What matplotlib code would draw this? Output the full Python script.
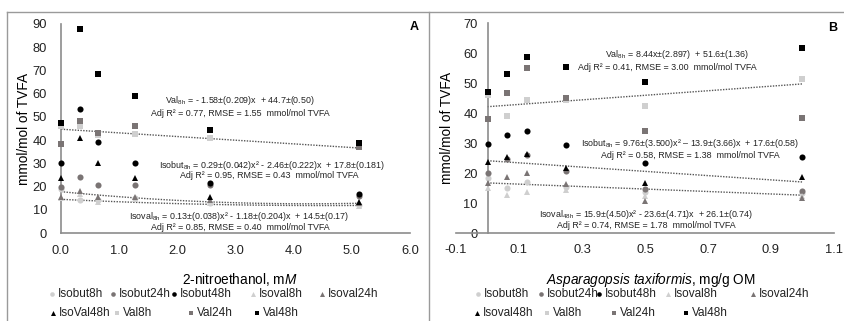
import matplotlib
matplotlib.use("Agg")
import matplotlib.pyplot as plt
from matplotlib.lines import Line2D
import numpy as np

plt.rcParams['font.family'] = ['Liberation Sans', 'DejaVu Sans']
plt.rcParams['mathtext.fontset'] = 'custom'
plt.rcParams['mathtext.rm'] = 'Liberation Sans'
plt.rcParams['mathtext.it'] = 'Liberation Sans:italic'

# ---------------- data ----------------
series_names = ["Isobut8h", "Isobut24h", "Isobut48h", "Isoval8h", "Isoval24h",
                "Isoval48h", "Val8h", "Val24h", "Val48h"]
legend_names_a = ["Isobut8h", "Isobut24h", "Isobut48h", "Isoval8h", "Isoval24h",
                  "IsoVal48h", "Val8h", "Val24h", "Val48h"]

x_a = [0.0, 0.32, 0.64, 1.28, 2.56, 5.12]
isobut8h_a = [19.0, 14.2, 14.0, 15.0, 13.0, 12.0]
isobut24h_a = [19.8, 24.0, 20.7, 20.7, 20.5, 16.0]
isobut48h_a = [30.0, 53.4, 39.3, 30.0, 21.5, 17.0]
isoval8h_a = [15.0, 17.0, 13.5, 14.6, 13.0, 11.5]
isoval24h_a = [15.5, 18.0, 15.5, 15.5, 14.0, 13.0]
isoval48h_a = [23.7, 41.0, 30.0, 23.7, 15.5, 13.2]
val8h_a = [46.0, 46.0, 42.0, 42.6, 41.0, 37.0]
val24h_a = [38.2, 48.2, 43.0, 46.0, 44.2, 37.0]
val48h_a = [47.3, 87.8, 68.4, 59.0, 44.4, 38.8]

x_b = [0.0, 0.0625, 0.125, 0.25, 0.5, 1.0]
isobut8h_b = [18.3, 15.0, 17.0, 15.5, 13.7, 13.3]
isobut24h_b = [20.0, 24.7, 26.0, 20.7, 14.7, 14.0]
isobut48h_b = [29.7, 32.7, 34.0, 29.5, 23.3, 25.5]
isoval8h_b = [15.0, 12.7, 13.7, 14.3, 12.3, 12.5]
isoval24h_b = [16.7, 18.7, 20.0, 16.3, 10.7, 11.7]
isoval48h_b = [23.7, 25.3, 26.3, 21.7, 16.7, 18.7]
val8h_b = [46.0, 39.0, 44.3, 44.5, 42.3, 51.3]
val24h_b = [38.0, 46.7, 55.0, 45.0, 34.0, 38.3]
val48h_b = [47.0, 53.0, 58.6, 55.3, 50.2, 61.6]

# trend line coefficients (a*x^2 + b*x + c)
trend_a = [[0.0, -1.58, 44.7], [0.29, -2.46, 17.8], [0.13, -1.18, 14.5]]
trend_b = [[0.0, 7.6, 42.1], [0.0, -7.1, 24.1], [0.0, -4.1, 16.7]]

xticks_a = [0.0, 1.0, 2.0, 3.0, 4.0, 5.0, 6.0]
yticks_a = [0, 10, 20, 30, 40, 50, 60, 70, 80, 90]
xticks_b = [-0.1, 0.1, 0.3, 0.5, 0.7, 0.9, 1.1]
yticks_b = [0, 10, 20, 30, 40, 50, 60, 70]

ann_a = [
    ("Val$_{\\mathrm{8h}}$ = - 1.58±(0.209)x  + 44.7±(0.50)", 0.513, 0.632),
    ("Adj R² = 0.77, RMSE = 1.55  mmol/mol TVFA", 0.513, 0.574),
    ("Isobut$_{\\mathrm{8h}}$ = 0.29±(0.042)x² - 2.46±(0.222)x  + 17.8±(0.181)", 0.605, 0.325),
    ("Adj R² = 0.95, RMSE = 0.43  mmol/mol TVFA", 0.598, 0.275),
    ("Isoval$_{\\mathrm{8h}}$ = 0.13±(0.038)x² - 1.18±(0.204)x  + 14.5±(0.17)", 0.51, 0.081),
    ("Adj R² = 0.85, RMSE = 0.40  mmol/mol TVFA", 0.513, 0.024),
]
ann_b = [
    ("Val$_{\\mathrm{8h}}$ = 8.44x±(2.897)  + 51.6±(1.36)", 0.585, 0.848),
    ("Adj R² = 0.41, RMSE = 3.00  mmol/mol TVFA", 0.56, 0.790),
    ("Isobut$_{\\mathrm{8h}}$ = 9.76±(3.500)x² – 13.9±(3.66)x  + 17.6±(0.58)", 0.62, 0.424),
    ("Adj R² = 0.58, RMSE = 1.38  mmol/mol TVFA", 0.62, 0.371),
    ("Isoval$_{\\mathrm{48h}}$ = 15.9±(4.50)x² - 23.6±(4.71)x  + 26.1±(0.74)", 0.503, 0.09),
    ("Adj R² = 0.74, RMSE = 1.78  mmol/mol TVFA", 0.503, 0.038),
]

# ---------------- styles ----------------
LIGHT = "#cfcfcf"
MID = "#7a7474"
DARK = "#000000"
styles = [("o", LIGHT, 4.4), ("o", MID, 4.4), ("o", DARK, 4.4),
          ("^", LIGHT, 4.8), ("^", MID, 4.8), ("^", DARK, 4.8),
          ("s", LIGHT, 4.7), ("s", MID, 4.7), ("s", DARK, 4.7)]

W, H = 845, 321
fig = plt.figure(figsize=(W / 100, H / 100), dpi=100)


def fx(px):
    return px / W


def fy(py):
    return 1 - py / H


# panel frames
frame_col = "#9a9a9a"
fig.add_artist(Line2D([fx(7), 1.0], [fy(12), fy(12)], color=frame_col, lw=1.0))
fig.add_artist(Line2D([fx(7), fx(7)], [fy(12), 0], color=frame_col, lw=1.0))
fig.add_artist(Line2D([fx(429), fx(429)], [fy(12), 0], color=frame_col, lw=1.0))

axA = fig.add_axes([fx(61), fy(233), fx(410 - 61), (233 - 24) / H])
axB = fig.add_axes([fx(456), fy(233), fx(834 - 456), (233 - 23) / H])

spine_col = "#8c8c8c"
tick_fs = 9.3
ann_fs = 6.4
lab_fs = 9.8

data_a = [isobut8h_a, isobut24h_a, isobut48h_a, isoval8h_a, isoval24h_a,
          isoval48h_a, val8h_a, val24h_a, val48h_a]
data_b = [isobut8h_b, isobut24h_b, isobut48h_b, isoval8h_b, isoval24h_b,
          isoval48h_b, val8h_b, val24h_b, val48h_b]

for ax, xs, data, trends, ann in [(axA, x_a, data_a, trend_a, ann_a),
                                  (axB, x_b, data_b, trend_b, ann_b)]:
    for (m, c, ms), ys, name in zip(styles, data, series_names):
        ax.plot(xs, ys, linestyle="none", marker=m, color=c, markersize=ms,
                markeredgewidth=0, label=name, zorder=3, clip_on=False)
    xx = np.linspace(xs[0], xs[-1], 100)
    for a, b, c in trends:
        ax.plot(xx, a * xx ** 2 + b * xx + c, linestyle=(0, (1, 1)),
                color="#555555", lw=1.0, zorder=2)
    for txt, tx, ty in ann:
        ax.text(tx, ty, txt, transform=ax.transAxes, ha="center", va="center",
                fontsize=ann_fs, color="#222222")
    for s in ["top", "right"]:
        ax.spines[s].set_visible(False)
    for s in ["left", "bottom"]:
        ax.spines[s].set_color(spine_col)
        ax.spines[s].set_linewidth(1.2)
    ax.tick_params(length=0, labelsize=tick_fs, colors="#222222")
    ax.set_facecolor("none")

# Panel A axes
axA.set_xlim(0, 6)
axA.set_ylim(0, 90)
axA.set_xticks(xticks_a)
axA.set_xticklabels([f"{v:.1f}" for v in xticks_a])
axA.set_yticks(yticks_a)
axA.tick_params(axis="y", pad=10)
axA.tick_params(axis="x", pad=9)
axA.set_xlabel("2-nitroethanol, m$\\mathit{M}$", fontsize=lab_fs)
axA.xaxis.set_label_coords(0.513, -0.18)
axA.set_ylabel("mmol/mol of TVFA", fontsize=lab_fs)
axA.yaxis.set_label_coords(-0.085, 0.5)
axA.text(1.0, 0.985, "A", transform=axA.transAxes, fontsize=9,
         fontweight="bold", ha="left", va="center")

# Panel B axes
axB.set_xlim(-0.1, 1.1)
axB.set_ylim(0, 70)
axB.spines["left"].set_position(("data", 0))
axB.set_xticks(xticks_b)
axB.set_xticklabels([f"{v:.1f}" for v in xticks_b])
axB.set_yticks(yticks_b)
axB.tick_params(axis="y", pad=7)
axB.tick_params(axis="x", pad=8)
axB.set_xlabel("$\\mathit{Asparagopsis\\ taxiformis}$, mg/g OM", fontsize=lab_fs)
axB.xaxis.set_label_coords(0.515, -0.18)
axB.text(447 / W, fy(128), "mmol/mol of TVFA", fontsize=lab_fs, rotation=90,
         ha="center", va="center", transform=fig.transFigure)
axB.text(0.985, 0.975, "B", transform=axB.transAxes, fontsize=9,
         fontweight="bold", ha="left", va="center")

# manual legends (Excel-like layout)
leg_fs = 8.5
pos_a = [(52, 294), (113, 294), (174, 294), (253, 294), (322, 294),
         (53, 313), (117, 313), (191, 313), (257, 313)]
pos_b = [(478, 294), (541, 294), (599, 294), (668, 294), (753, 294),
         (477, 313), (547, 313), (614, 313), (686, 313)]
legend_names_b = series_names
for positions, names in [(pos_a, legend_names_a), (pos_b, legend_names_b)]:
    for (px, py), (m, c, ms), name in zip(positions, styles, names):
        fig.add_artist(Line2D([fx(px)], [fy(py)], marker=m, color=c,
                              markersize=ms * 0.75, markeredgewidth=0,
                              linestyle="none"))
        fig.text(fx(px + 6), fy(py), name, fontsize=leg_fs, ha="left",
                 va="center", color="#222222")

fig.savefig("out.png", dpi=100)
